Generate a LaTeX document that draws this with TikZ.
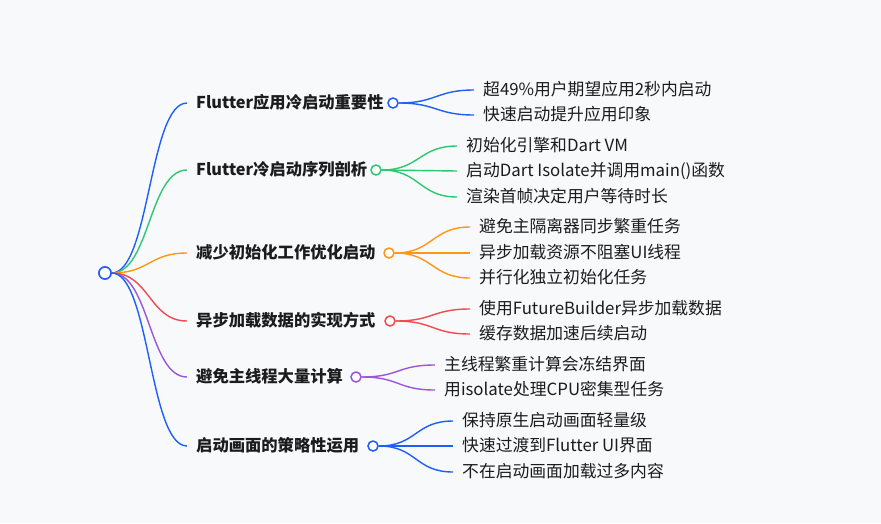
\documentclass[tikz,border=0pt]{standalone}
\usepackage{fontspec}
\setmainfont{Noto Sans CJK SC}
\definecolor{bg}{RGB}{248,249,251}
\definecolor{txt}{RGB}{28,28,30}
\definecolor{cblue}{RGB}{30,95,250}
\definecolor{cgreen}{RGB}{45,200,110}
\definecolor{corange}{RGB}{255,150,20}
\definecolor{cred}{RGB}{240,75,80}
\definecolor{cpurple}{RGB}{155,85,220}
\begin{document}
\begin{tikzpicture}[x=1pt,y=-1pt,
  every node/.style={text=txt},
  branch/.style={anchor=west,inner xsep=9pt,inner ysep=0pt,font=\fontsize{16.3}{20}\selectfont\bfseries,text height=1.06em,text depth=0em},
  leaf/.style={anchor=west,inner xsep=9pt,inner ysep=0pt,font=\fontsize{16.8}{20}\selectfont,text height=1.06em,text depth=0em},
  dot/.style={circle,draw=#1,fill=white,line width=1.5pt,minimum size=10pt,inner sep=0pt},
  link/.style={draw=#1,line width=1.4pt},
  ]
\useasboundingbox[fill=bg] (0,0) rectangle (881,523);
% root
\node[dot=cblue,minimum size=12pt] (root) at (105,273) {};
% branches
\node[branch] (b1) at (187,103) {Flutter应用冷启动重要性};
\node[branch] (b2) at (187,170) {Flutter冷启动序列剖析};
\node[branch] (b3) at (187,253) {减少初始化工作优化启动};
\node[branch] (b4) at (187,321) {异步加载数据的实现方式};
\node[branch] (b5) at (187,377) {避免主线程大量计算};
\node[branch] (b6) at (187,446) {启动画面的策略性运用};
\node[dot=cblue] (d1) at (393,103) {};
\node[dot=cgreen] (d2) at (376,170) {};
\node[dot=corange] (d3) at (389,253) {};
\node[dot=cred] (d4) at (390,321) {};
\node[dot=cpurple] (d5) at (356,377) {};
\node[dot=cblue] (d6) at (373,446) {};
% leaves
\node[leaf] (l11) at (474,90) {超49\%用户期望应用2秒内启动};
\node[leaf] (l12) at (474,115) {快速启动提升应用印象};
\node[leaf] (l21) at (457,146) {初始化引擎和Dart VM};
\node[leaf] (l22) at (457,171) {启动Dart Isolate并调用main()函数};
\node[leaf] (l23) at (457,197) {渲染首帧决定用户等待时长};
\node[leaf] (l31) at (470,227) {避免主隔离器同步繁重任务};
\node[leaf] (l32) at (470,253) {异步加载资源不阻塞UI线程};
\node[leaf] (l33) at (470,278) {并行化独立初始化任务};
\node[leaf] (l41) at (470,309) {使用FutureBuilder异步加载数据};
\node[leaf] (l42) at (470,334) {缓存数据加速后续启动};
\node[leaf] (l51) at (435,365) {主线程繁重计算会冻结界面};
\node[leaf] (l52) at (435,390) {用isolate处理CPU密集型任务};
\node[leaf] (l61) at (453,421) {保持原生启动画面轻量级};
\node[leaf] (l62) at (453,446) {快速过渡到Flutter UI界面};
\node[leaf] (l63) at (453,472) {不在启动画面加载过多内容};
% root links
\foreach \b/\c in {b1/cblue,b2/cgreen,b3/corange,b4/cred,b5/cpurple,b6/cblue}
  \draw[link=\c] (root.east) .. controls +(38,0) and +(-38,0) .. (\b.west);
% branch links
\foreach \d/\l/\c in {d1/l11/cblue,d1/l12/cblue,
  d2/l21/cgreen,d2/l22/cgreen,d2/l23/cgreen,
  d3/l31/corange,d3/l32/corange,d3/l33/corange,
  d4/l41/cred,d4/l42/cred,
  d5/l51/cpurple,d5/l52/cpurple,
  d6/l61/cblue,d6/l62/cblue,d6/l63/cblue}
  \draw[link=\c] (\d.east) .. controls +(38,0) and +(-38,0) .. (\l.west);
\node[dot=cblue,minimum size=12pt] at (root) {};
\end{tikzpicture}
\end{document}
